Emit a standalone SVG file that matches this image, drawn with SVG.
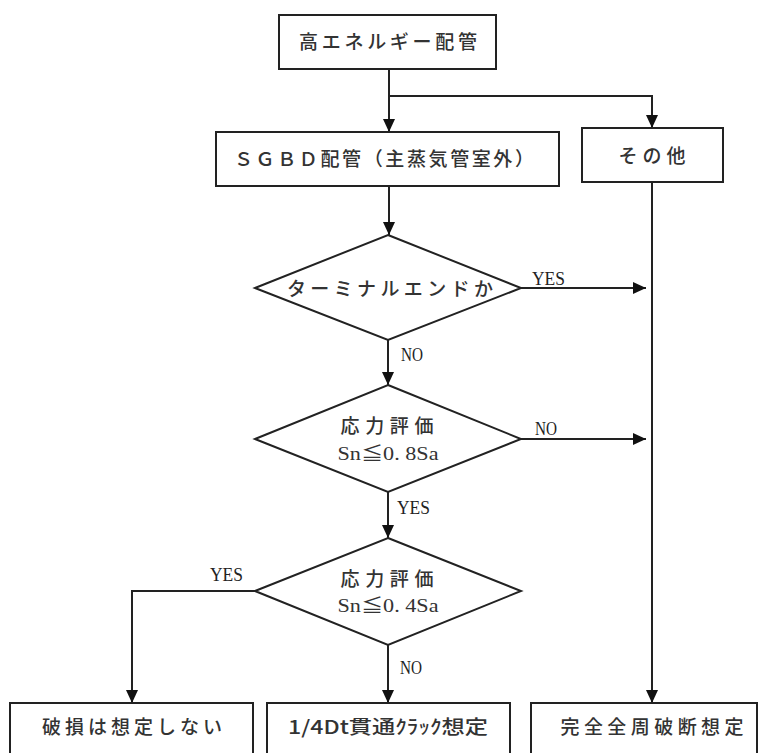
<svg xmlns="http://www.w3.org/2000/svg" width="765" height="753" viewBox="0 0 765 753">
<style>
.box{fill:#fff;stroke:#222;stroke-width:2}
.ln{fill:none;stroke:#222;stroke-width:2}
.jp{font-family:"Noto Sans CJK JP","Noto Sans",sans-serif;font-size:19px;font-weight:500;fill:#333;text-anchor:middle}
.lb{font-family:"Liberation Serif","DejaVu Serif",serif;font-size:18px;fill:#222}
.fm{font-family:"Liberation Serif","Noto Sans CJK JP",serif;font-size:18px;fill:#333;text-anchor:middle}
</style>
<defs>
<marker id="ah" markerUnits="userSpaceOnUse" markerWidth="14" markerHeight="12" refX="13" refY="6" orient="auto">
<path d="M0,0 L13,6 L0,12 z" fill="#111"/>
</marker>
</defs>
<rect width="765" height="753" fill="#fff"/>
<g id="connectors">
<path class="ln" d="M389,69 V132" marker-end="url(#ah)"/>
<path class="ln" d="M389,96 H652 V128" marker-end="url(#ah)"/>
<path class="ln" d="M389,186 V235" marker-end="url(#ah)"/>
<path class="ln" d="M652,182 V703" marker-end="url(#ah)"/>
<path class="ln" d="M521,288 H646" marker-end="url(#ah)"/>
<path class="ln" d="M388,340 V385" marker-end="url(#ah)"/>
<path class="ln" d="M521,439 H646" marker-end="url(#ah)"/>
<path class="ln" d="M388,492 V538" marker-end="url(#ah)"/>
<path class="ln" d="M255,591 H132 V703" marker-end="url(#ah)"/>
<path class="ln" d="M388,645 V703" marker-end="url(#ah)"/>
<text class="lb" x="532" y="285" textLength="33" lengthAdjust="spacingAndGlyphs">YES</text>
<text class="lb" x="401" y="361" textLength="22" lengthAdjust="spacingAndGlyphs">NO</text>
<text class="lb" x="535" y="435" textLength="22" lengthAdjust="spacingAndGlyphs">NO</text>
<text class="lb" x="397" y="514" textLength="33" lengthAdjust="spacingAndGlyphs">YES</text>
<text class="lb" x="210" y="581" textLength="33" lengthAdjust="spacingAndGlyphs">YES</text>
<text class="lb" x="400" y="674" textLength="22" lengthAdjust="spacingAndGlyphs">NO</text>
</g>
<g id="n_high">
<rect class="box" x="279" y="15" width="217" height="54"/>
<text class="jp" x="388" y="49" textLength="178" lengthAdjust="spacing">高エネルギー配管</text>
</g>
<g id="n_sgbd">
<rect class="box" x="216" y="132" width="343" height="54"/>
<text class="jp" x="384" y="166" textLength="300" lengthAdjust="spacing">ＳＧＢＤ配管（主蒸気管室外）</text>
</g>
<g id="n_other">
<rect class="box" x="582" y="128" width="141" height="54"/>
<text class="jp" x="652" y="163" textLength="67" lengthAdjust="spacing">その他</text>
</g>
<g id="d_terminal">
<polygon class="box" points="388,235 521,288 388,340 255,288"/>
<text class="jp" x="390" y="296" textLength="206" lengthAdjust="spacing">ターミナルエンドか</text>
</g>
<g id="d_stress08">
<polygon class="box" points="388,385 521,439 388,492 255,439"/>
<text class="jp" x="387" y="433" textLength="93" lengthAdjust="spacing">応力評価</text>
<text class="fm" x="388" y="460" textLength="101" lengthAdjust="spacingAndGlyphs">Sn≦0. 8Sa</text>
</g>
<g id="d_stress04">
<polygon class="box" points="388,538 521,591 388,645 255,591"/>
<text class="jp" x="387" y="586" textLength="93" lengthAdjust="spacing">応力評価</text>
<text class="fm" x="388" y="612" textLength="101" lengthAdjust="spacingAndGlyphs">Sn≦0. 4Sa</text>
</g>
<g id="n_nobreak">
<rect class="box" x="10" y="703" width="243" height="60"/>
<text class="jp" x="132" y="734" textLength="180" lengthAdjust="spacing">破損は想定しない</text>
</g>
<g id="n_crack">
<rect class="box" x="267" y="703" width="243" height="60"/>
<text class="jp" x="388" y="734" textLength="200" lengthAdjust="spacingAndGlyphs">1/4Dt貫通ｸﾗｯｸ想定</text>
</g>
<g id="n_full">
<rect class="box" x="531" y="703" width="226" height="60"/>
<text class="jp" x="652" y="734" textLength="183" lengthAdjust="spacing">完全全周破断想定</text>
</g>
</svg>
